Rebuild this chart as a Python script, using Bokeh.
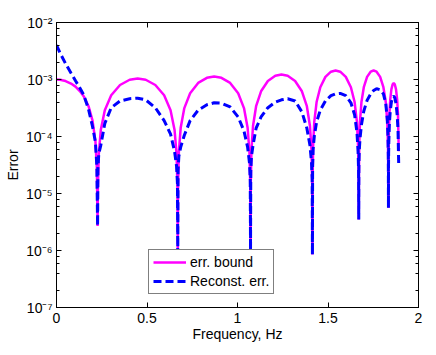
from bokeh.plotting import figure
from bokeh.models import (LogAxis, LinearAxis, Legend, LegendItem, Label,
                          CustomJSTickFormatter, FixedTicker, LogTicker)
from bokeh.embed import file_html
from bokeh.resources import INLINE

# Frequency in units of 1e9 Hz
freq = [0.0, 0.02, 0.05, 0.08, 0.105, 0.13, 0.15, 0.177, 0.199, 0.215, 0.223, 0.227,
        0.2288, 0.2336, 0.2447, 0.2669, 0.3023, 0.3510, 0.4042, 0.4485, 0.4928, 0.5460, 0.5947, 0.6301, 0.6523, 0.6634, 0.6682, 0.670,
        0.6716, 0.676, 0.6861, 0.7062, 0.7383, 0.7826, 0.8308, 0.871, 0.9112, 0.9594, 1.0037, 1.0358, 1.0559, 1.066, 1.0704, 1.072,
        1.0734, 1.0771, 1.0857, 1.1028, 1.1301, 1.1678, 1.2088, 1.243, 1.2772, 1.3182, 1.3559, 1.3832, 1.4003, 1.4089, 1.4126, 1.414,
        1.415, 1.4178, 1.4242, 1.437, 1.4575, 1.4857, 1.5164, 1.542, 1.5676, 1.5983, 1.6265, 1.647, 1.6598, 1.6662, 1.669, 1.670,
        1.6707, 1.6725, 1.6766, 1.6848, 1.6979, 1.7159, 1.7356, 1.752, 1.7684, 1.7881, 1.8061, 1.8192, 1.8274, 1.8315, 1.8333, 1.834,
        1.8342, 1.8349, 1.8363, 1.8392, 1.8439, 1.8502, 1.8572, 1.863, 1.8688, 1.8758, 1.8821, 1.8868, 1.8908]

err_bound = [1.0e-3, 9.9e-4, 9.4e-4, 8.5e-4, 7.5e-4, 6.2e-4, 5.1e-4, 3.4e-4, 1.9e-4, 8.3e-5, 2.8e-5, 2.7e-6,
             1.31e-5, 4.90e-5, 1.30e-4, 2.90e-4, 5.29e-4, 8.01e-4, 9.89e-4, 1.04e-3, 9.89e-4, 8.01e-4, 5.29e-4, 2.90e-4, 1.30e-4, 4.90e-5, 1.31e-5, 9e-7,
             1.42e-5, 5.32e-5, 1.42e-4, 3.15e-4, 5.75e-4, 8.71e-4, 1.07e-3, 1.13e-3, 1.07e-3, 8.71e-4, 5.75e-4, 3.15e-4, 1.42e-4, 5.32e-5, 1.42e-5, 1e-6,
             1.53e-5, 5.75e-5, 1.53e-4, 3.40e-4, 6.21e-4, 9.40e-4, 1.16e-3, 1.22e-3, 1.16e-3, 9.40e-4, 6.21e-4, 3.40e-4, 1.53e-4, 5.75e-5, 1.53e-5, 8.5e-7,
             1.81e-5, 6.78e-5, 1.80e-4, 4.02e-4, 7.33e-4, 1.11e-3, 1.37e-3, 1.44e-3, 1.37e-3, 1.11e-3, 7.33e-4, 4.02e-4, 1.80e-4, 6.78e-5, 1.81e-5, 3.5e-6,
             1.81e-5, 6.78e-5, 1.80e-4, 4.02e-4, 7.33e-4, 1.11e-3, 1.37e-3, 1.44e-3, 1.37e-3, 1.11e-3, 7.33e-4, 4.02e-4, 1.80e-4, 6.78e-5, 1.81e-5, 5.6e-6,
             1.09e-5, 4.10e-5, 1.09e-4, 2.43e-4, 4.43e-4, 6.70e-4, 8.27e-4, 8.7e-4, 8.27e-4, 6.70e-4, 4.43e-4, 2.43e-4, 5.5e-5]

recon_err = [4.0e-3, 2.9e-3, 1.9e-3, 1.3e-3, 9.5e-4, 7.0e-4, 5.4e-4, 3.0e-4, 1.5e-4, 8.0e-5, 3.0e-5, 2.7e-6,
             2.7e-5, 5e-5, 7e-5, 1.7e-4, 3.2e-4, 4.2e-4, 4.6e-4, 4.7e-4, 4.4e-4, 3.2e-4, 1.9e-4, 1.1e-4, 5.5e-5, 3e-5, 1.5e-5, 9e-7,
             2.5e-5, 4.5e-5, 6.5e-5, 1.05e-4, 1.9e-4, 2.9e-4, 3.6e-4, 3.9e-4, 3.85e-4, 3.3e-4, 2.2e-4, 1.25e-4, 6.5e-5, 3.5e-5, 1.8e-5, 1e-6,
             2.5e-5, 4.5e-5, 7e-5, 1.4e-4, 2.2e-4, 3.2e-4, 4.0e-4, 4.4e-4, 4.6e-4, 4.2e-4, 2.7e-4, 1.4e-4, 7e-5, 3.5e-5, 1.8e-5, 8.5e-7,
             3e-5, 6e-5, 1.0e-4, 1.8e-4, 2.9e-4, 4.2e-4, 5.2e-4, 5.6e-4, 5.7e-4, 5.2e-4, 3.9e-4, 2.4e-4, 1.2e-4, 5.5e-5, 2.5e-5, 3.5e-6,
             3e-5, 5.5e-5, 9e-5, 1.6e-4, 2.8e-4, 4.3e-4, 5.6e-4, 6.4e-4, 6.9e-4, 6.6e-4, 5.6e-4, 3.8e-4, 2.0e-4, 1.0e-4, 4.5e-5, 5.6e-6,
             2.5e-5, 5e-5, 9e-5, 1.7e-4, 2.8e-4, 4.0e-4, 4.9e-4, 5.1e-4, 4.8e-4, 3.8e-4, 2.4e-4, 1.3e-4, 3e-5]

x_ticks = [0, 0.5, 1, 1.5, 2]
x_tick_labels = ["0", "0.5", "1", "1.5", "2"]
series_names = ["err. bound", "Reconst. err."]

FONT = "Liberation Sans"

p = figure(width=436, height=355, y_axis_type="log",
           x_range=(0, 2), y_range=(1e-7, 1e-2),
           output_backend="svg", toolbar_location=None,
           min_border_left=56, min_border_right=18,
           min_border_top=22, min_border_bottom=48)
p.background_fill_color = "white"
p.border_fill_color = "white"
p.outline_line_color = "black"
p.outline_line_width = 1
p.xgrid.visible = False
p.ygrid.visible = False

r1 = p.line(freq, err_bound, line_color="#FF00FF", line_width=2.5)
r2 = p.line(freq, recon_err, line_color="#0000FF", line_width=3, line_dash="8 4")

sup_js = """
const sup = {'-':'\u207b','0':'\u2070','1':'\u00b9','2':'\u00b2','3':'\u00b3','4':'\u2074',
             '5':'\u2075','6':'\u2076','7':'\u2077','8':'\u2078','9':'\u2079'};
const e = Math.round(Math.log10(tick));
return '10' + String(e).split('').map(c => sup[c]).join('');
"""

def style_axis(ax):
    ax.axis_line_color = "black"
    ax.major_tick_line_color = "black"
    ax.minor_tick_line_color = "black"
    ax.major_tick_in = 5
    ax.major_tick_out = 0
    ax.minor_tick_in = 3
    ax.minor_tick_out = 0
    ax.major_label_text_font = FONT
    ax.major_label_text_font_size = "14px"
    ax.major_label_text_color = "black"

# bottom x axis
xa = p.xaxis[0]
xa.ticker = FixedTicker(ticks=x_ticks)
xa.major_label_overrides = {t: l for t, l in zip(x_ticks, x_tick_labels)}
style_axis(xa)
xa.minor_tick_in = 0
xa.major_label_standoff = 5
xa.axis_label = "Frequency, Hz"
xa.axis_label_text_font = FONT
xa.axis_label_text_font_size = "14px"
xa.axis_label_text_font_style = "normal"
xa.axis_label_text_color = "black"
xa.axis_label_standoff = 0

# left y axis
ya = p.yaxis[0]
ya.ticker = LogTicker(desired_num_ticks=6)
ya.formatter = CustomJSTickFormatter(code=sup_js)
style_axis(ya)
ya.major_label_standoff = 4
ya.axis_label = "Error"
ya.axis_label_text_font = FONT
ya.axis_label_text_font_size = "14px"
ya.axis_label_text_font_style = "normal"
ya.axis_label_text_color = "black"
ya.axis_label_standoff = 2

# top and right axes (ticks only, labels hidden)
top = LinearAxis(ticker=FixedTicker(ticks=x_ticks))
style_axis(top)
top.minor_tick_in = 0
top.major_label_text_color = None
top.major_label_text_font_size = "4px"
top.major_label_standoff = 0
p.add_layout(top, "above")
right = LogAxis(ticker=LogTicker(desired_num_ticks=6))
style_axis(right)
right.major_label_text_color = None
right.major_label_text_font_size = "2px"
right.major_label_standoff = 0
p.add_layout(right, "right")

# scale factor label
p.add_layout(Label(x=2.0, y=1e-7, text="x 10\u2079", text_align="right",
                   text_baseline="top", y_offset=-24, x_offset=2,
                   text_font=FONT, text_font_size="14px", text_color="black"))

legend = Legend(items=[LegendItem(label=series_names[0], renderers=[r1]),
                       LegendItem(label=series_names[1], renderers=[r2])],
                location=(92, 13))
legend.border_line_color = "black"
legend.border_line_width = 1
legend.background_fill_color = "white"
legend.background_fill_alpha = 1
legend.label_text_font = FONT
legend.label_text_font_size = "14px"
legend.label_text_color = "black"
legend.glyph_width = 33
legend.glyph_height = 16
legend.label_height = 16
legend.spacing = 3
legend.padding = 4
legend.margin = 0
legend.label_standoff = 4
p.add_layout(legend, "center")

open("out.html", "w").write(file_html(p, INLINE))
